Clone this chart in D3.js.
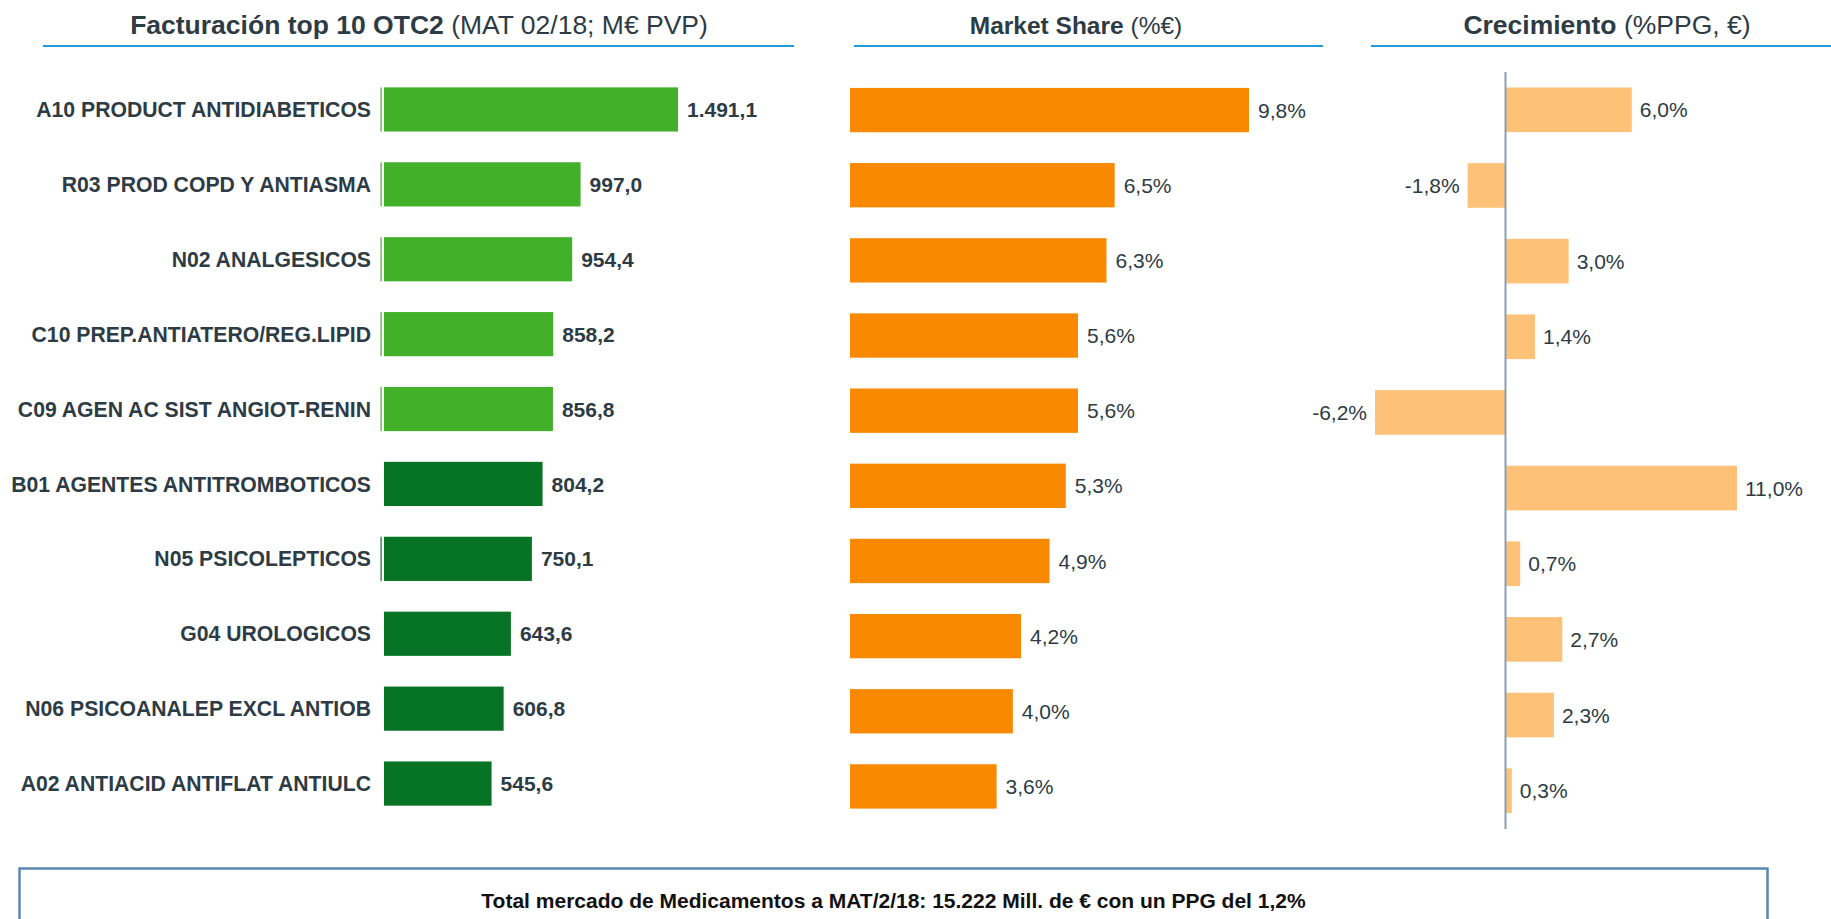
<!DOCTYPE html>
<html><head><meta charset="utf-8">
<script src="https://cdn.jsdelivr.net/npm/d3@7"></script>
<style>
html,body{margin:0;padding:0;background:#fff;}
svg{display:block;font-family:"Liberation Sans",Arial,sans-serif;}
</style></head>
<body>
<script>
const categories = ["A10 PRODUCT ANTIDIABETICOS","R03 PROD COPD Y ANTIASMA","N02 ANALGESICOS","C10 PREP.ANTIATERO/REG.LIPID","C09 AGEN AC SIST ANGIOT-RENIN","B01 AGENTES ANTITROMBOTICOS","N05 PSICOLEPTICOS","G04 UROLOGICOS","N06 PSICOANALEP EXCL ANTIOB","A02 ANTIACID ANTIFLAT ANTIULC"];
const facturacion = [1491.1, 997.0, 954.4, 858.2, 856.8, 804.2, 750.1, 643.6, 606.8, 545.6];
const marketShare = [9.8, 6.5, 6.3, 5.6, 5.6, 5.3, 4.9, 4.2, 4.0, 3.6];
const crecimiento = [6.0, -1.8, 3.0, 1.4, -6.2, 11.0, 0.7, 2.7, 2.3, 0.3];
const highlighted = [true, true, true, true, true, false, false, false, false, false];
const titles = [
  {bold:"Facturación top 10 OTC2", normal:" (MAT 02/18; M€ PVP)"},
  {bold:"Market Share", normal:" (%€)"},
  {bold:"Crecimiento", normal:" (%PPG, €)"}
];
const footerText = "Total mercado de Medicamentos a MAT/2/18: 15.222 Mill. de € con un PPG del 1,2%";

const W = 1831, H = 919;
const textColor = "#2d3b45";
const svg = d3.select("body").append("svg").attr("width", W).attr("height", H);

const loc = d3.formatLocale({decimal:",", thousands:".", grouping:[3], currency:["","€"], minus:"-"});
const fmtVal = loc.format(",.1f");
const fmtPct = v => loc.format(".1f")(v) + "%";

// Titles and underlines
const titleCfg = [
  {cx:419, x1:43, x2:794, size:26.5},
  {cx:1076, x1:854, x2:1323, size:24.5},
  {cx:1607, x1:1371, x2:1831, size:26.5}
];
titles.forEach((t,i)=>{
  const c = titleCfg[i];
  const tx = svg.append("text").attr("x", c.cx).attr("y", 34).attr("text-anchor","middle")
    .attr("font-size", c.size).attr("fill", textColor);
  tx.append("tspan").attr("font-weight","bold").text(t.bold);
  tx.append("tspan").text(t.normal);
  svg.append("line").attr("x1", c.x1).attr("x2", c.x2).attr("y1", 46).attr("y2", 46)
    .attr("stroke", "#1f9bd7").attr("stroke-width", 2);
});

// Panel 1: Facturación
const y1 = d3.scaleBand().domain(categories).range([72, 821]).paddingInner(0.41).paddingOuter(0.205);
const x1 = d3.scaleLinear().domain([0, 1491.1]).range([384, 678]);
const g1 = svg.append("g");
categories.forEach((c,i)=>{
  const col = highlighted[i] ? "#43b02a" : "#077325";
  if (highlighted[i] || i === 6) {
    g1.append("rect").attr("x", 380.5).attr("y", y1(c)).attr("width", 1.2).attr("height", y1.bandwidth())
      .attr("fill", col);
  }
  g1.append("rect").attr("x", x1(0)).attr("y", y1(c)).attr("width", x1(facturacion[i]) - x1(0))
    .attr("height", y1.bandwidth()).attr("fill", col);
  g1.append("text").attr("x", 371).attr("y", y1(c) + y1.bandwidth()/2).attr("dy","0.36em")
    .attr("text-anchor","end").attr("font-size", 21.2).attr("font-weight","bold").attr("fill", textColor).text(c);
  g1.append("text").attr("x", x1(facturacion[i]) + 9).attr("y", y1(c) + y1.bandwidth()/2).attr("dy","0.36em")
    .attr("font-size", 21).attr("font-weight","bold").attr("fill", textColor).text(fmtVal(facturacion[i]));
});

// Panel 2: Market share
const y2 = d3.scaleBand().domain(categories).range([72.5, 824]).paddingInner(0.41).paddingOuter(0.205);
const x2 = d3.scaleLinear().domain([0, 9.8]).range([850, 1249]);
const g2 = svg.append("g");
categories.forEach((c,i)=>{
  g2.append("rect").attr("x", x2(0)).attr("y", y2(c)).attr("width", x2(marketShare[i]) - x2(0))
    .attr("height", y2.bandwidth()).attr("fill", "#f98900");
  g2.append("text").attr("x", x2(marketShare[i]) + 9).attr("y", y2(c) + y2.bandwidth()/2).attr("dy","0.36em")
    .attr("font-size", 21).attr("fill", textColor).text(fmtPct(marketShare[i]));
});

// Panel 3: Crecimiento
const y3 = d3.scaleBand().domain(categories).range([72, 828.5]).paddingInner(0.41).paddingOuter(0.205);
const x3 = d3.scaleLinear().domain([-6.2, 11]).range([1375, 1737]);
const g3 = svg.append("g");
categories.forEach((c,i)=>{
  const v = crecimiento[i];
  const xa = x3(Math.min(0,v)), xb = x3(Math.max(0,v));
  g3.append("rect").attr("x", xa).attr("y", y3(c)).attr("width", xb - xa)
    .attr("height", y3.bandwidth()).attr("fill", "#fec178");
  g3.append("text").attr("x", v < 0 ? xa - 8 : xb + 8).attr("y", y3(c) + y3.bandwidth()/2).attr("dy","0.36em")
    .attr("text-anchor", v < 0 ? "end" : "start")
    .attr("font-size", 21).attr("fill", textColor).text(fmtPct(v));
});
g3.append("line").attr("x1", x3(0)).attr("x2", x3(0)).attr("y1", 72).attr("y2", 829)
  .attr("stroke", "#8aa0b1").attr("stroke-width", 2);

// Footer box
svg.append("rect").attr("x", 19.5).attr("y", 868.5).attr("width", 1748).attr("height", 80)
  .attr("fill", "none").attr("stroke", "#5b86b6").attr("stroke-width", 2.5);
svg.append("text").attr("x", (19.5 + 1767.5)/2).attr("y", 900).attr("dy","0.36em").attr("text-anchor","middle")
  .attr("font-size", 21).attr("font-weight","bold").attr("fill", "#111").text(footerText);
</script>
</body></html>
